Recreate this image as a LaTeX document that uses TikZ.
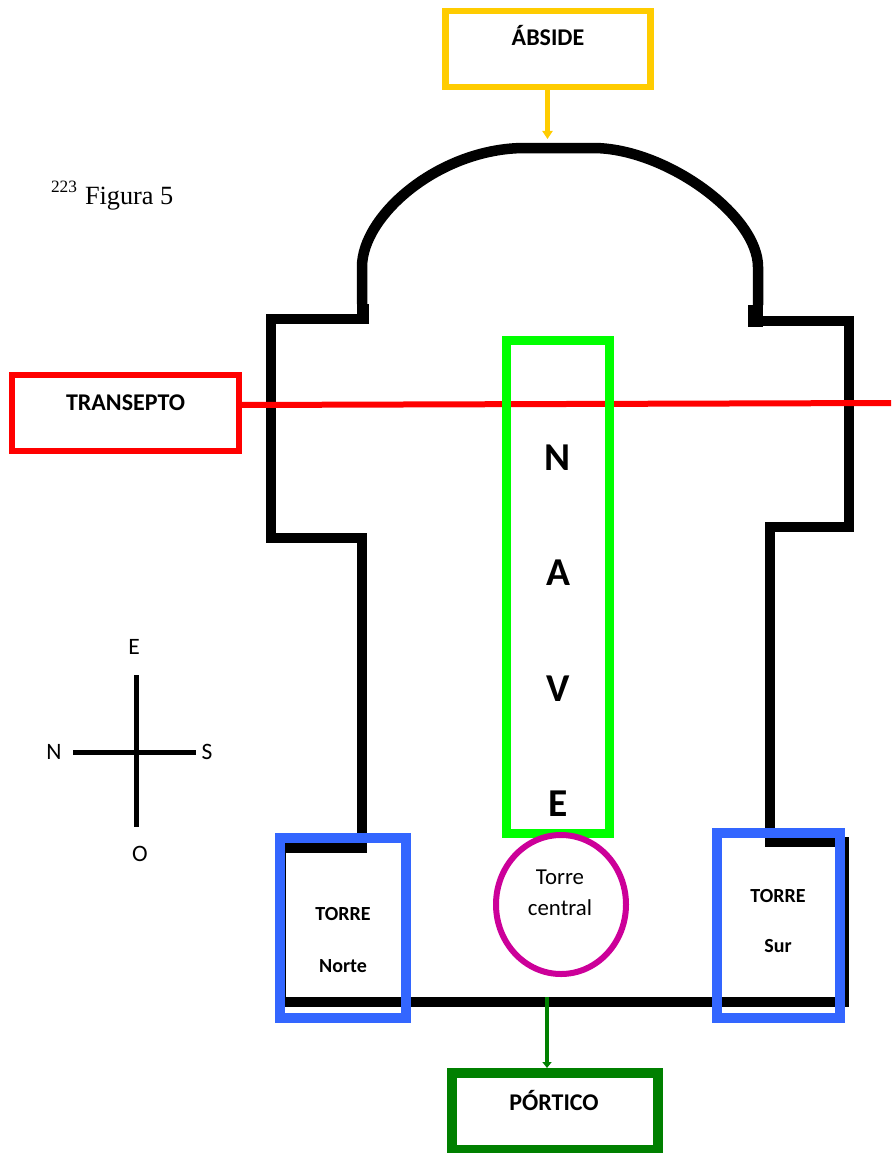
\documentclass[tikz,border=0pt]{standalone}
\usepackage{fontspec}
\setmainfont{Carlito}
\newfontfamily\timesf{Liberation Serif}
\usetikzlibrary{arrows.meta,shapes.geometric}
\definecolor{cyellow}{HTML}{FFCC00}
\definecolor{cred}{HTML}{FF0000}
\definecolor{clime}{HTML}{00FF00}
\definecolor{cdgreen}{HTML}{008000}
\definecolor{cblue}{HTML}{3366FF}
\definecolor{cmag}{HTML}{CC0099}
\tikzset{
  wall/.style={line width=10.5pt,black,miter limit=10,line join=miter},
  boxed/.style={draw,rectangle,inner sep=0pt,outer sep=0pt,fill=none},
  txt/.style={anchor=base,inner sep=0pt,outer sep=0pt,text=black},
  lab/.style={txt,font=\fontsize{24}{28}\selectfont\bfseries},
  big/.style={txt,font=\fontsize{39.5}{44}\selectfont\bfseries},
  small/.style={txt,font=\fontsize{20}{24}\selectfont\bfseries},
  reg/.style={txt,font=\fontsize{22.8}{27}\selectfont},
  card/.style={txt,font=\fontsize{23.5}{28}\selectfont},
  compass/.style={line width=5pt,black},
}
\begin{document}
\begin{tikzpicture}[x=1pt,y=-1pt]
\useasboundingbox (0,0) rectangle (891,1153);
% outline
\draw[wall] (362,304) -- (362,267) .. controls (362,215) and (440,148) .. (525,148) -- (593,148)
  .. controls (665,148) and (758,215) .. (758,267) -- (758,305);
\draw[wall] (369,319) -- (271,319) -- (271,538) -- (362,538) -- (362,848) -- (281,848) -- (281,1002) -- (849,1002);
\draw[wall] (748,321) -- (849,321) -- (849,527) -- (770,527) -- (770,842) -- (844,842) -- (844,1007);
\fill[black] (357,304) rectangle (369,324);
\fill[black] (748,305) rectangle (763,327);
% compass
\coordinate (cn) at (73,752); \coordinate (cs) at (196,752);
\coordinate (ce) at (136,675); \coordinate (co) at (136,827);
\draw[compass] (cn) -- (cs);
\draw[compass] (ce) -- (co);
\node[card] (lE) at (134,654) {E};
\node[card] (lN) at (54,759) {N};
\node[card] (lS) at (207,759) {S};
\node[card] (lO) at (140,861) {O};
% transept box and its line, which the nave box covers
\node[boxed,draw=cred,line width=6.5pt,minimum width=227pt,minimum height=76pt] (transepto) at (125.5,413) {};
\coordinate (transend) at (891,403);
\draw[cred,line width=6pt] ([yshift=8pt]transepto.east) -- (transend);
% boxes
\node[boxed,draw=clime,line width=9pt,minimum width=103pt,minimum height=493pt] (nave) at (558,587) {};
\node[boxed,draw=cyellow,line width=6.5pt,minimum width=205pt,minimum height=76pt] (abside) at (548,49) {};
\node[boxed,draw=cblue,line width=10pt,minimum width=126pt,minimum height=180pt] (tnorte) at (343,928) {};
\node[boxed,draw=cblue,line width=10pt,minimum width=123pt,minimum height=185pt] (tsur) at (778.5,925.5) {};
\node[boxed,draw=cdgreen,line width=10pt,minimum width=206pt,minimum height=77pt] (portico) at (555,1111.5) {};
\node[draw=cmag,line width=6pt,ellipse,inner sep=0pt,outer sep=0pt,minimum width=130pt,minimum height=139pt] (torre) at (561,904.5) {};
% connectors
\coordinate (absend) at (547.5,139);
\coordinate (porstart) at (547,997);
\draw[cyellow,line width=4.5pt,-{Triangle[width=10pt,length=8pt]}] (abside.south -| absend) -- (absend);
\draw[cdgreen,line width=4.5pt,-{Triangle[width=9pt,length=6pt]}] (porstart) -- ([yshift=5pt]porstart |- portico.north);
% labels
\node[lab] (tabs) at (548,46) {ÁBSIDE};
\node[lab] (ttra) at (125.5,410) {TRANSEPTO};
\node[lab] (tpor) at (554,1110) {PÓRTICO};
\node[big] (n1) at (558,470) {N};
\node[big] (n2) at (558,585) {A};
\node[big] (n3) at (558,701) {V};
\node[big] (n4) at (558,816) {E};
\node[small] (t1) at (343,920) {TORRE};
\node[small] (t2) at (343,972) {Norte};
\node[small] (t3) at (778,902) {TORRE};
\node[small] (t4) at (778,952) {Sur};
\node[reg] (c1) at (560,884) {Torre};
\node[reg] (c2) at (560,915) {central};
\node[txt,font=\timesf\fontsize{26.3}{30}\selectfont,anchor=base west] (fig) at (85,204) {Figura 5};
\node[txt,font=\timesf\fontsize{17.3}{20}\selectfont,anchor=base west] (num) at (51,192) {223};
\end{tikzpicture}
\end{document}
